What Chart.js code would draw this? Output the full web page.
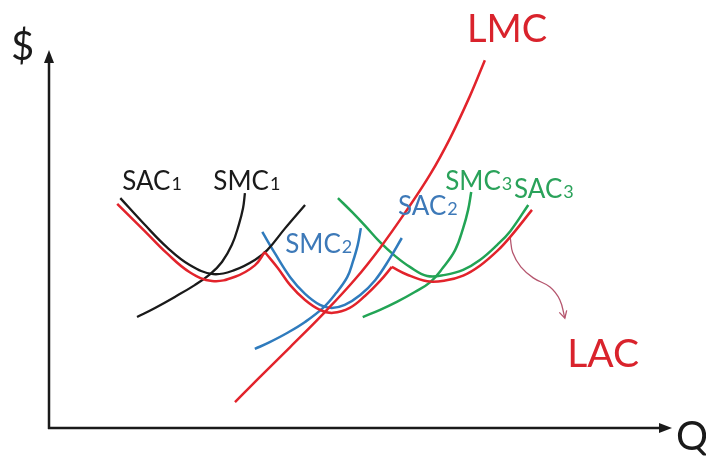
<!DOCTYPE html>
<html lang="en">
<head>
<meta charset="UTF-8">
<title>Short-run and long-run cost curves</title>
<script src="https://cdn.jsdelivr.net/npm/chart.js@4.4.1/dist/chart.umd.min.js"></script>
<style>
  html, body { margin: 0; padding: 0; background: #ffffff; }
  #wrap { width: 706px; height: 456px; position: relative; }
</style>
</head>
<body>
<div id="wrap"><canvas id="costChart"></canvas></div>
<script>
// Curves. Q runs 0-100 along x, $ runs 0-100 up y.
const sac1Q = [11.5, 15.5, 19.0, 22.7, 26.5, 30.0, 33.2, 35.2, 38.1, 41.3];
const sac1P = [60.5, 53.4, 47.6, 42.9, 40.5, 41.6, 44.2, 46.8, 52.6, 58.7];

const smc1Q = [14.2, 17.1, 20.3, 23.5, 26.0, 27.9, 29.5, 30.6, 31.3, 31.6];
const smc1P = [29.2, 31.6, 34.5, 37.6, 40.5, 43.7, 48.2, 53.4, 57.9, 61.8];

const sac2Q = [34.4, 36.5, 38.9, 41.3, 43.7, 45.6, 47.7, 50.2, 52.6, 55.0, 56.9];
const sac2P = [51.6, 45.8, 39.7, 35.3, 32.4, 31.6, 32.4, 35.0, 38.9, 44.7, 50.0];

const smc2Q = [33.2, 35.6, 38.4, 41.3, 44.2, 46.3, 48.1, 49.0, 49.8, 50.3];
const smc2P = [20.8, 22.6, 25.0, 27.9, 31.6, 35.5, 39.7, 43.7, 48.2, 52.6];

const sac3Q = [46.6, 48.9, 51.0, 53.4, 55.8, 58.2, 61.0, 63.9, 66.8, 69.5, 72.3, 74.4, 77.3];
const sac3P = [60.5, 56.8, 53.2, 48.9, 45.3, 42.4, 40.0, 40.3, 41.6, 44.2, 48.2, 51.8, 58.7];

const smc3Q = [50.6, 53.4, 56.1, 59.0, 61.5, 63.5, 65.5, 66.8, 67.6, 68.1];
const smc3P = [29.2, 31.1, 33.2, 35.8, 38.4, 42.1, 46.8, 52.6, 57.4, 62.1];

// LAC is the lower envelope, in three pieces so the kinks stay sharp
const lacAQ = [11.0, 15.4, 19.0, 22.7, 26.3, 30.0, 33.2, 34.8];
const lacAP = [59.0, 51.9, 46.0, 41.0, 38.7, 39.8, 42.8, 46.3];
const lacBQ = [34.8, 36.9, 38.9, 41.3, 43.7, 45.8, 48.5, 51.0, 53.4, 55.3];
const lacBP = [46.3, 42.1, 37.6, 33.7, 31.1, 30.3, 31.6, 34.8, 38.7, 42.4];
const lacCQ = [55.3, 57.7, 61.0, 63.9, 66.8, 69.5, 72.3, 74.4, 77.9];
const lacCP = [42.4, 40.4, 38.6, 38.8, 40.1, 42.7, 46.6, 50.3, 57.4];

const lmcQ = [30.0, 34.0, 38.9, 44.5, 49.4, 53.4, 57.4, 61.5, 64.7, 67.9, 70.3];
const lmcP = [6.8, 13.4, 21.3, 30.5, 39.2, 47.4, 56.6, 66.8, 76.3, 87.4, 96.8];

// the little pointer from the LAC curve to its label
const pointerQ = [74.4, 74.8, 76.1, 78.1, 80.8, 82.4, 83.2];
const pointerP = [50.0, 46.1, 42.4, 39.5, 37.1, 33.7, 28.9];

// curve labels: name, subscript, anchor (Q, $)
const labelNames = ['SAC', 'SMC', 'SMC', 'SAC', 'SMC', 'SAC', 'LMC', 'LAC'];
const labelSubs  = ['1', '1', '2', '2', '3', '3', '', ''];
const labelQ     = [11.8, 26.5, 38.1, 56.3, 63.9, 75.0, 67.4, 83.6];
const labelP     = [62.6, 62.6, 46.1, 56.1, 62.6, 60.5, 101.6, 16.1];

const RED = '#e2232b';
const BLACK = '#1a1a1a';
const BLUE = '#2f7bbd';
const GREEN = '#22a455';

const labelColors = [BLACK, BLACK, '#3d79b8', '#3d79b8', '#2aa25a', '#2aa25a', '#d9232c', '#d9232c'];
const labelSizes  = [26, 26, 26, 26, 26, 26, 38, 39];

function pts(qs, ps) {
    return qs.map(function (q, i) { return { x: q, y: ps[i] }; });
}

function curve(qs, ps, color, width) {
    return {
        data: pts(qs, ps),
        showLine: true,
        borderColor: color,
        borderWidth: width,
        pointRadius: 0,
        tension: 0.4,
        fill: false,
        clip: false
    };
}

const sketchPlugin = {
    id: 'sketch',
    beforeDatasetsDraw(chart) {
        const ctx = chart.ctx;
        const a = chart.chartArea;
        ctx.save();
        ctx.strokeStyle = BLACK;
        ctx.fillStyle = BLACK;
        ctx.lineWidth = 2.5;
        ctx.beginPath();
        ctx.moveTo(a.left, a.bottom + 1);
        ctx.lineTo(a.left, a.top + 12);
        ctx.moveTo(a.left - 1, a.bottom);
        ctx.lineTo(a.right - 8, a.bottom);
        ctx.stroke();
        // arrow heads
        ctx.beginPath();
        ctx.moveTo(a.left, a.top + 2);
        ctx.lineTo(a.left - 5, a.top + 15);
        ctx.lineTo(a.left + 5, a.top + 15);
        ctx.closePath();
        ctx.fill();
        ctx.beginPath();
        ctx.moveTo(a.right + 3, a.bottom);
        ctx.lineTo(a.right - 10, a.bottom - 5);
        ctx.lineTo(a.right - 10, a.bottom + 5);
        ctx.closePath();
        ctx.fill();
        // axis names
        ctx.font = '40px Lato';
        ctx.textBaseline = 'alphabetic';
        ctx.fillText('$', a.left - 38, a.top + 12);
        ctx.fillText('Q', a.right + 7, a.bottom + 22);
        ctx.restore();
    },
    afterDatasetsDraw(chart) {
        const ctx = chart.ctx;
        const xs = chart.scales.x;
        const ys = chart.scales.y;
        ctx.save();
        ctx.textBaseline = 'alphabetic';
        labelNames.forEach(function (name, i) {
            const px = xs.getPixelForValue(labelQ[i]);
            const py = ys.getPixelForValue(labelP[i]);
            ctx.fillStyle = labelColors[i];
            ctx.font = labelSizes[i] + 'px Lato';
            ctx.fillText(name, px, py);
            if (labelSubs[i]) {
                const w = ctx.measureText(name).width;
                ctx.font = Math.round(labelSizes[i] * 0.7) + 'px Lato';
                ctx.fillText(labelSubs[i], px + w + 1, py);
            }
        });
        // open arrow head at the end of the LAC pointer
        const n = pointerQ.length;
        const ex = xs.getPixelForValue(pointerQ[n - 1]);
        const ey = ys.getPixelForValue(pointerP[n - 1]);
        const bx = xs.getPixelForValue(pointerQ[n - 2]);
        const by = ys.getPixelForValue(pointerP[n - 2]);
        const ang = Math.atan2(ey - by, ex - bx);
        ctx.strokeStyle = '#b5566e';
        ctx.lineWidth = 1.3;
        ctx.beginPath();
        ctx.moveTo(ex - 8 * Math.cos(ang - 0.5), ey - 8 * Math.sin(ang - 0.5));
        ctx.lineTo(ex, ey);
        ctx.lineTo(ex - 8 * Math.cos(ang + 0.5), ey - 8 * Math.sin(ang + 0.5));
        ctx.stroke();
        ctx.restore();
    }
};

new Chart(document.getElementById('costChart'), {
    type: 'scatter',
    data: {
        datasets: [
            curve(lacAQ, lacAP, RED, 2.5),
            curve(lacBQ, lacBP, RED, 2.5),
            curve(lacCQ, lacCP, RED, 2.5),
            curve(lmcQ, lmcP, RED, 2.5),
            curve(sac1Q, sac1P, BLACK, 2.3),
            curve(smc1Q, smc1P, BLACK, 2.3),
            curve(sac2Q, sac2P, BLUE, 2.5),
            curve(smc2Q, smc2P, BLUE, 2.5),
            curve(sac3Q, sac3P, GREEN, 2.5),
            curve(smc3Q, smc3P, GREEN, 2.5),
            curve(pointerQ, pointerP, '#b5566e', 1.3)
        ]
    },
    options: {
        responsive: true,
        maintainAspectRatio: false,
        animation: false,
        layout: { padding: { left: 49, right: 37, top: 48, bottom: 28 } },
        scales: {
            x: { type: 'linear', min: 0, max: 100, display: false },
            y: { type: 'linear', min: 0, max: 100, display: false }
        },
        plugins: {
            legend: { display: false },
            tooltip: { enabled: false }
        }
    },
    plugins: [sketchPlugin]
});
</script>
</body>
</html>
